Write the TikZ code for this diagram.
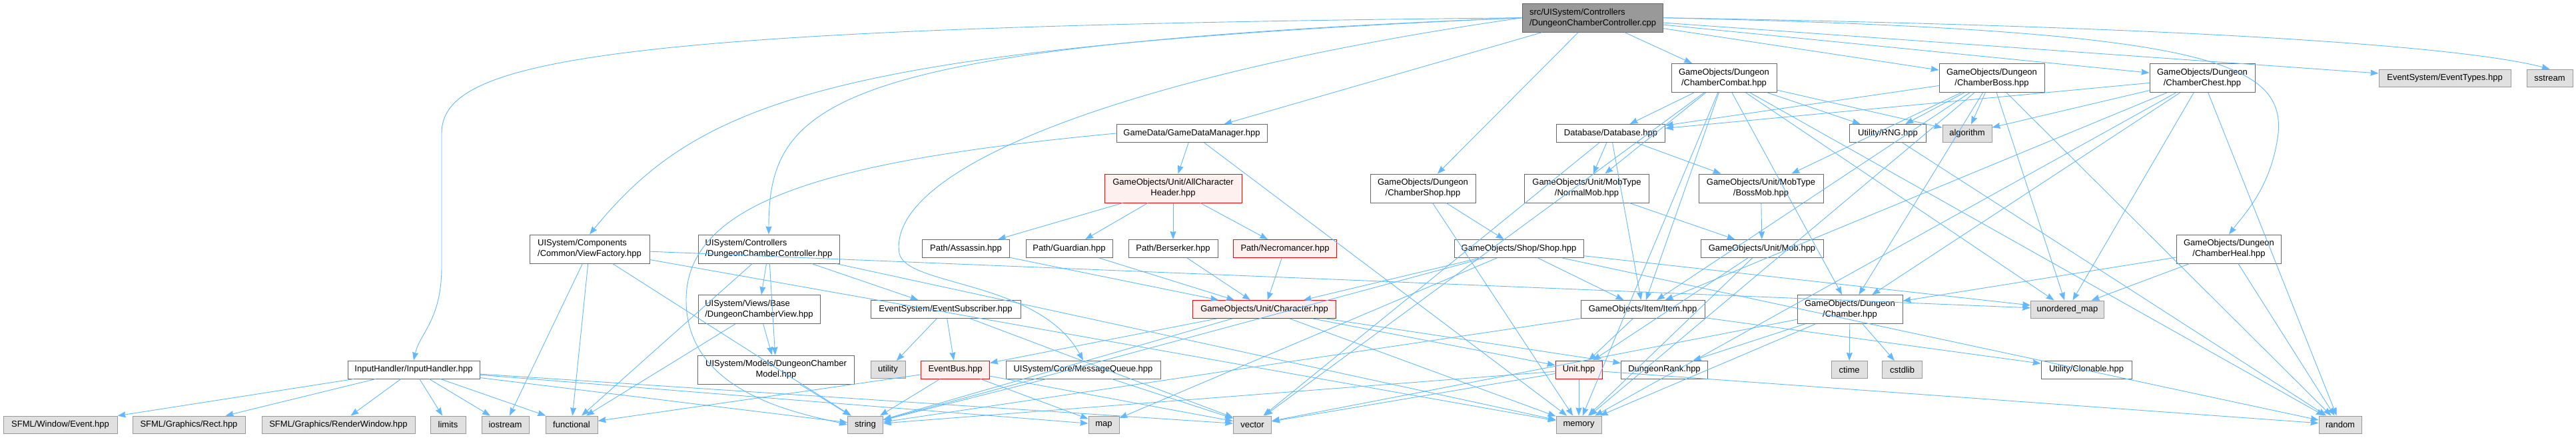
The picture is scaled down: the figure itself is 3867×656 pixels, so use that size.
\documentclass[tikz,border=0pt]{standalone}
\usepackage{fontspec}
\setmainfont{Liberation Sans}
\usepackage{tikz}
\usetikzlibrary{arrows.meta}
\definecolor{edgeblue}{RGB}{99,184,255}
\definecolor{nodegray}{RGB}{102,102,102}
\definecolor{sysframe}{RGB}{153,153,153}
\definecolor{sysfill}{RGB}{224,224,224}
\definecolor{redfill}{RGB}{255,240,240}
\definecolor{redframe}{RGB}{255,0,0}
\definecolor{rootfill}{RGB}{153,153,153}
\newcommand{\dxfont}{\fontsize{13}{16}\selectfont}
\tikzset{
  hdrnode/.style={rectangle, draw=nodegray, fill=white, line width=1pt,
    font=\dxfont, align=center, inner sep=0pt, minimum height=27pt},
  twoline/.style={minimum height=43pt},
  sysnode/.style={hdrnode, draw=sysframe, fill=sysfill, minimum height=26pt},
  rednode/.style={hdrnode, draw=redframe, fill=redfill},
  rootnode/.style={hdrnode, fill=rootfill, minimum height=43pt},
  dep/.style={-{Stealth[length=12pt, width=9pt, inset=1pt]}, draw=edgeblue, line width=0.9pt}
}
\begin{document}
\begin{tikzpicture}[x=1pt, y=-1pt]
  \useasboundingbox (0,0) rectangle (3867,656);
  % --- ROOT FILE ---
  \node[rootnode, minimum width=211, align=left] (cpp) at (2391,26.7) {src/UISystem/Controllers\\/DungeonChamberController.cpp};

  % --- PROJECT HEADERS ---
  \node[hdrnode, twoline, minimum width=158] (combat) at (2588,117) {GameObjects/Dungeon\\/ChamberCombat.hpp};
  \node[hdrnode, twoline, minimum width=158] (boss) at (2990,117) {GameObjects/Dungeon\\/ChamberBoss.hpp};
  \node[hdrnode, twoline, minimum width=158] (chest) at (3306,117) {GameObjects/Dungeon\\/ChamberChest.hpp};
  \node[hdrnode, minimum width=226] (gamedata) at (1789,200) {GameData/GameDataManager.hpp};
  \node[hdrnode, minimum width=163] (database) at (2418,200) {Database/Database.hpp};
  \node[hdrnode, minimum width=115] (rng) at (2834,200) {Utility/RNG.hpp};
  \node[rednode, twoline, minimum width=206] (allchar) at (1761,282.5) {GameObjects/Unit/AllCharacter\\Header.hpp};
  \node[hdrnode, twoline, minimum width=158] (chambershop) at (2136,282.5) {GameObjects/Dungeon\\/ChamberShop.hpp};
  \node[hdrnode, twoline, minimum width=187] (normalmob) at (2382,282.5) {GameObjects/Unit/MobType\\/NormalMob.hpp};
  \node[hdrnode, twoline, minimum width=187] (bossmob) at (2643.5,282.5) {GameObjects/Unit/MobType\\/BossMob.hpp};
  \node[hdrnode, twoline, minimum width=180, align=left] (viewfactory) at (885,373.5) {UISystem/Components\\/Common/ViewFactory.hpp};
  \node[hdrnode, twoline, minimum width=212, align=left] (dcctrl) at (1154,373.5) {UISystem/Controllers\\/DungeonChamberController.hpp};
  \node[hdrnode, minimum width=131] (assassin) at (1450,373) {Path/Assassin.hpp};
  \node[hdrnode, minimum width=130] (guardian) at (1605,373) {Path/Guardian.hpp};
  \node[hdrnode, minimum width=134] (berserker) at (1761,373) {Path/Berserker.hpp};
  \node[rednode, minimum width=155] (necro) at (1929,373) {Path/Necromancer.hpp};
  \node[hdrnode, minimum width=194] (shop) at (2280,373) {GameObjects/Shop/Shop.hpp};
  \node[hdrnode, minimum width=184] (mob) at (2645,373) {GameObjects/Unit/Mob.hpp};
  \node[hdrnode, twoline, minimum width=157] (heal) at (3346,373.5) {GameObjects/Dungeon\\/ChamberHeal.hpp};
  \node[hdrnode, twoline, minimum width=183, align=left] (dcview) at (1139.5,464) {UISystem/Views/Base\\/DungeonChamberView.hpp};
  \node[hdrnode, minimum width=225] (evsub) at (1419.5,464) {EventSystem/EventSubscriber.hpp};
  \node[rednode, minimum width=215] (character) at (1898,464) {GameObjects/Unit/Character.hpp};
  \node[hdrnode, minimum width=186] (item) at (2466,464) {GameObjects/Item/Item.hpp};
  \node[hdrnode, twoline, minimum width=158] (chamber) at (2777,464) {GameObjects/Dungeon\\/Chamber.hpp};
  \node[hdrnode, minimum width=198] (inputhandler) at (621,554.5) {InputHandler/InputHandler.hpp};
  \node[hdrnode, twoline, minimum width=235] (dcmodel) at (1165,554.5) {UISystem/Models/DungeonChamber\\Model.hpp};
  \node[rednode, minimum width=103] (evbus) at (1434,554.5) {EventBus.hpp};
  \node[hdrnode, minimum width=232] (msgqueue) at (1626,554.5) {UISystem/Core/MessageQueue.hpp};
  \node[rednode, minimum width=70] (unit) at (2370,554.5) {Unit.hpp};
  \node[hdrnode, minimum width=130] (dungeonrank) at (2498.5,554.5) {DungeonRank.hpp};
  \node[hdrnode, minimum width=136] (clonable) at (3132,554.5) {Utility/Clonable.hpp};

  % --- SYSTEM HEADERS ---
  \node[sysnode, minimum width=198] (eventtypes) at (3670,117) {EventSystem/EventTypes.hpp};
  \node[sysnode, minimum width=69] (sstream) at (3827.5,117) {sstream};
  \node[sysnode, minimum width=74] (algorithm) at (2953,200) {algorithm};
  \node[sysnode, minimum width=110] (unorderedmap) at (3103.5,464) {unordered\_map};
  \node[sysnode, minimum width=52] (utility) at (1333,554.5) {utility};
  \node[sysnode, minimum width=54] (ctime) at (2776,554.5) {ctime};
  \node[sysnode, minimum width=60] (cstdlib) at (2855.6,554.5) {cstdlib};
  \node[sysnode, minimum width=171] (event) at (90.5,637) {SFML/Window/Event.hpp};
  \node[sysnode, minimum width=169] (rect) at (283.5,637) {SFML/Graphics/Rect.hpp};
  \node[sysnode, minimum width=230] (renderwin) at (508,637) {SFML/Graphics/RenderWindow.hpp};
  \node[sysnode, minimum width=53] (limits) at (672.5,637) {limits};
  \node[sysnode, minimum width=71] (iostream) at (758.5,637) {iostream};
  \node[sysnode, minimum width=78] (functional) at (858,637) {functional};
  \node[sysnode, minimum width=53] (string) at (1299,637) {string};
  \node[sysnode, minimum width=46] (map) at (1657,637) {map};
  \node[sysnode, minimum width=57] (vector) at (1880,637) {vector};
  \node[sysnode, minimum width=68] (memory) at (2370,637) {memory};
  \node[sysnode, minimum width=64] (random) at (3513,637) {random};

  % --- INCLUDES OF THE ROOT ---
  \draw[dep] (cpp.west) .. controls (900,40) and (663,90) .. (663,200) -- (663,400) .. controls (663,480) and (630,500) .. (inputhandler.north);
  \draw[dep] (cpp.west) .. controls (1250,72) and (1050,150) .. (viewfactory.north);
  \draw[dep] (cpp.west) .. controls (1250,68) and (1154,150) .. (dcctrl.north);
  \draw[dep] (cpp.west) .. controls (1700,110) and (1330,250) .. (1350,380) .. controls (1360,430) and (1560,420) .. (msgqueue.north);
  \draw[dep] (cpp.east) .. controls (3300,45) and (3430,90) .. (3420,200) .. controls (3410,280) and (3370,320) .. (heal.north);
  \draw[dep] (cpp.east) .. controls (3300,40) and (3700,70) .. (sstream.north);
  \foreach \t in {gamedata, chambershop, combat, boss, chest, eventtypes}
    \draw[dep] (cpp) -- (\t);

  % --- UI SIDE ---
  \foreach \t in {event, rect, renderwin, limits, iostream, functional, string, map, vector}
    \draw[dep] (inputhandler) -- (\t);
  \foreach \t in {iostream, functional, string, memory, unorderedmap}
    \draw[dep] (viewfactory) -- (\t);
  \foreach \t in {dcview, dcmodel, functional, evsub, memory}
    \draw[dep] (dcctrl) -- (\t);
  \foreach \t in {functional, dcmodel}
    \draw[dep] (dcview) -- (\t);
  \draw[dep] (dcmodel) -- (string);
  \foreach \t in {utility, evbus, vector}
    \draw[dep] (evsub) -- (\t);
  \foreach \t in {string, map, vector, functional}
    \draw[dep] (evbus) -- (\t);
  \foreach \t in {string, vector}
    \draw[dep] (msgqueue) -- (\t);

  % --- GAME DATA AND CHARACTERS ---
  \draw[dep] (gamedata.west) .. controls (1250,240) and (1030,300) .. (1030,450) .. controls (1030,590) and (1200,620) .. (string.west);
  \foreach \t in {allchar, memory}
    \draw[dep] (gamedata) -- (\t);
  \foreach \t in {assassin, guardian, berserker, necro} {
    \draw[dep] (allchar) -- (\t);
    \draw[dep] (\t) -- (character);
  }
  \foreach \t in {evbus, unit, dungeonrank, string, memory}
    \draw[dep] (character) -- (\t);

  % --- DUNGEON SIDE ---
  \foreach \t in {shop, memory}
    \draw[dep] (chambershop) -- (\t);
  \foreach \t in {character, item, map, string, random, unorderedmap}
    \draw[dep] (shop) -- (\t);
  \foreach \t in {unit, string, clonable}
    \draw[dep] (item) -- (\t);
  \foreach \t in {memory, string, vector, random}
    \draw[dep] (unit) -- (\t);
  \foreach \t in {normalmob, bossmob, item, vector}
    \draw[dep] (database) -- (\t);
  \draw[dep] (normalmob) -- (mob);
  \draw[dep] (bossmob) -- (mob);
  \foreach \t in {unit, memory}
    \draw[dep] (mob) -- (\t);
  \foreach \t in {database, rng, algorithm, normalmob, chamber, item, unorderedmap, memory, random, vector}
    \draw[dep] (combat) -- (\t);
  \foreach \t in {bossmob, rng, algorithm, database, chamber, item, unorderedmap, memory, random}
    \draw[dep] (boss) -- (\t);
  \foreach \t in {database, item, chamber, unorderedmap, random, algorithm, memory}
    \draw[dep] (chest) -- (\t);
  \foreach \t in {chamber, unorderedmap, random}
    \draw[dep] (heal) -- (\t);
  \foreach \t in {ctime, cstdlib, dungeonrank, memory, vector}
    \draw[dep] (chamber) -- (\t);
  \draw[dep] (rng) -- (random);
\end{tikzpicture}
\end{document}
